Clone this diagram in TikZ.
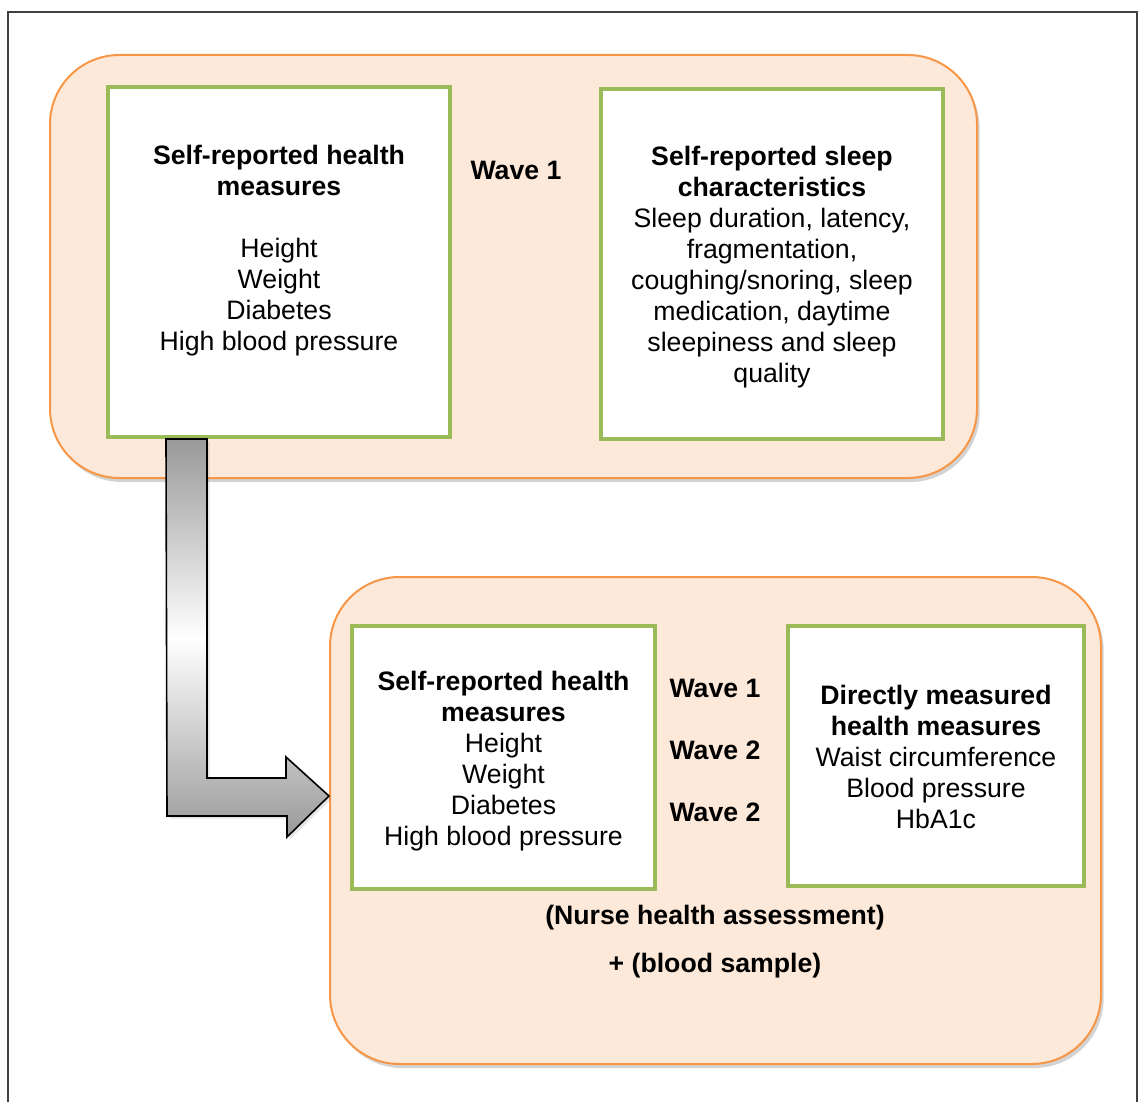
\documentclass[tikz,border=0pt]{standalone}
\usepackage{fontspec}
\setmainfont{Liberation Sans}
\usepackage{tikz}
\usetikzlibrary{positioning,calc,shadows}
\definecolor{wvorange}{HTML}{F79646}
\definecolor{wvpeach}{HTML}{FDE9D9}
\definecolor{wvgreen}{HTML}{9BBB59}
\definecolor{wvframe}{HTML}{404040}
\tikzset{
  panel/.style={rectangle,rounded corners=52pt,draw=wvorange,line width=1.5pt,
                fill=wvpeach,drop shadow={opacity=0.35,shadow xshift=2pt,shadow yshift=-3pt}},
  measbox/.style={rectangle,draw=wvgreen,line width=3pt,fill=white,inner sep=0pt},
  meastext/.style={align=center,inner sep=0pt,text=black},
  wavelbl/.style={font=\fontsize{20}{23.25}\selectfont\bfseries,inner sep=0pt},
  notelbl/.style={font=\fontsize{20}{23.25}\selectfont\bfseries,inner sep=0pt},
  bigarrow/.style={draw=black,line width=1.2pt,top color=gray!80,bottom color=gray!80,
                   middle color=white,drop shadow={opacity=0.2,shadow xshift=2pt,shadow yshift=-2pt}},
}

\begin{document}
\begin{tikzpicture}[x=0.75pt,y=-0.75pt,font=\fontsize{20}{23.25}\selectfont]
  \useasboundingbox (0,0) rectangle (1139,1102);
  % outer frame
  \draw[wvframe,line width=1pt] (8,1120) -- (8,12) -- (1137,12) -- (1137,1120);

  % wave 1 panel
  \node[panel,minimum width=695.25pt,minimum height=317.25pt] (p1) at (513.5,266.5) {};
  \node[measbox,minimum width=256.5pt,minimum height=262.5pt] (h1) at (279,262) {};
  \node[measbox,minimum width=256.5pt,minimum height=262.5pt] (s1) at (772,264) {};
  \node[meastext] (h1t) at ($(h1.center)+(0,-11)$)
    {\textbf{Self-reported health}\\\textbf{measures}\\[23.25pt]Height\\Weight\\Diabetes\\High blood pressure};
  \node[meastext] (s1t) at ($(s1.center)+(0,3)$)
    {\textbf{Self-reported sleep}\\\textbf{characteristics}\\Sleep duration, latency,\\fragmentation,\\coughing/snoring, sleep\\medication, daytime\\sleepiness and sleep\\quality};
  \node[wavelbl] (w0) at (516,170) {Wave 1};

  % wave 2 panel
  \node[panel,minimum width=578.25pt,minimum height=365.25pt] (p2) at (715.5,820.5) {};
  \node[measbox,minimum width=227.25pt,minimum height=197.25pt] (h2) at (503.5,757.5) {};
  \node[measbox,minimum width=222pt,minimum height=195pt] (d2) at (936,756) {};
  \node[meastext] (h2t) at ($(h2.center)+(0,4)$)
    {\textbf{Self-reported health}\\\textbf{measures}\\Height\\Weight\\Diabetes\\High blood pressure};
  \node[meastext] (d2t) at ($(d2.center)+(0,1)$)
    {\textbf{Directly measured}\\\textbf{health measures}\\Waist circumference\\Blood pressure\\HbA1c};
  \node[wavelbl] (w1) at (715,688) {Wave 1};
  \node[wavelbl] (w2) at (715,750) {Wave 2};
  \node[wavelbl] (w3) at (715,812) {Wave 2};
  \node[notelbl] (nurse) at (715,918) {(Nurse health assessment)};
  \node[notelbl,below=36pt of nurse.center,anchor=center] (blood) {+ (blood sample)};

  % block arrow from wave 1 to wave 2
  \coordinate (atop) at ($(h1.south west)+(60,0)$);
  \coordinate (atip) at (p2.west |- 0,796);
  \path[bigarrow] (atop) -- ++(41,0) -- ++(0,339) -- ++(79,0) -- ++(0,-21)
    -- (atip) -- ++(-42,41) -- ++(0,-21) -- ++(-120,0) -- cycle;
\end{tikzpicture}
\end{document}
